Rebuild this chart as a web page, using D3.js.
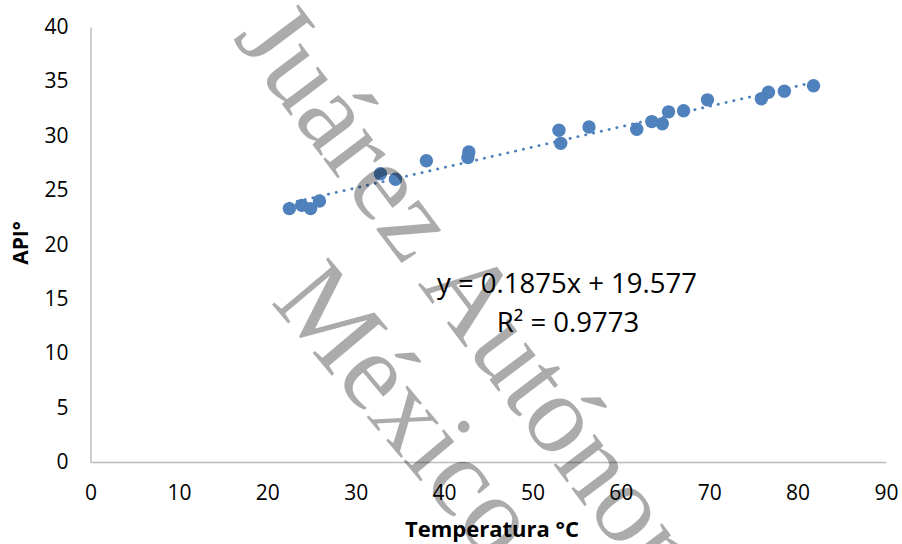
<!DOCTYPE html>
<html>
<head>
<meta charset="utf-8">
<script src="https://cdn.jsdelivr.net/npm/d3@7"></script>
<style>
  html, body { margin: 0; padding: 0; background: #fff; }
  svg { display: block; }
</style>
</head>
<body>
<svg id="chart" width="902" height="544"></svg>
<script>
// ---- data ----
const temperatura = [22.5, 23.9, 24.9, 25.9, 32.8, 34.5, 38.0, 42.8, 42.7, 53.0, 53.2, 56.4,
                     61.8, 63.5, 64.7, 65.4, 67.1, 69.8, 75.9, 76.7, 78.5, 81.8];
const api         = [23.3, 23.6, 23.3, 24.0, 26.5, 26.0, 27.7, 28.5, 28.0, 30.5, 29.3, 30.8,
                     30.6, 31.3, 31.1, 32.2, 32.3, 33.3, 33.4, 34.0, 34.1, 34.6];
const xTicks = [0, 10, 20, 30, 40, 50, 60, 70, 80, 90];
const yTicks = [0, 5, 10, 15, 20, 25, 30, 35, 40];
const trendSlope = 0.1875;
const trendIntercept = 19.577;
const equationLabel = "y = 0.1875x + 19.577";
const r2Label = "R² = 0.9773";
const xTitle = "Temperatura °C";
const yTitle = "API°";
const watermarkLine1 = "Juárez Autónoma de Tabasco";
const watermarkLine2 = "México";

// ---- layout ----
const svg = d3.select("#chart");
const x = d3.scaleLinear().domain([0, 90]).range([90.5, 886]);
const y = d3.scaleLinear().domain([0, 40]).range([462, 27]);
const font = "'Open Sans', 'Liberation Sans', sans-serif";
const blue = "#4f81bd";

// axes
const xAxis = svg.append("g").attr("transform", `translate(0,${y(0)})`)
  .call(d3.axisBottom(x).tickValues(xTicks).tickSize(0).tickFormat(d3.format("d")));
xAxis.select(".domain").attr("stroke", "#bcbcbc").attr("stroke-width", 1.5);
xAxis.selectAll("text").attr("y", 38).attr("dy", 0)
  .attr("font-family", font).attr("font-size", 21).attr("fill", "#000");

const yAxis = svg.append("g").attr("transform", `translate(${x(0)},0)`)
  .call(d3.axisLeft(y).tickValues(yTicks).tickSize(0).tickFormat(d3.format("d")));
yAxis.select(".domain").attr("stroke", "#bcbcbc").attr("stroke-width", 1.5);
yAxis.selectAll("text").attr("x", -22).attr("dy", "0.31em")
  .attr("font-family", font).attr("font-size", 21).attr("fill", "#000");

// points
svg.append("g").selectAll("circle")
  .data(temperatura.map((t, i) => [t, api[i]]))
  .join("circle")
  .attr("cx", d => x(d[0]))
  .attr("cy", d => y(d[1]))
  .attr("r", 6.7)
  .attr("fill", blue);

// trendline
const tMin = d3.min(temperatura), tMax = d3.max(temperatura);
svg.append("line")
  .attr("x1", x(tMin)).attr("y1", y(trendSlope * tMin + trendIntercept))
  .attr("x2", x(tMax)).attr("y2", y(trendSlope * tMax + trendIntercept))
  .attr("stroke", blue).attr("stroke-width", 2.8)
  .attr("stroke-linecap", "round")
  .attr("stroke-dasharray", "0.3 7.7");

// equation
svg.append("text").attr("x", 567).attr("y", 293).attr("text-anchor", "middle")
  .attr("font-family", font).attr("font-size", 27.5).attr("fill", "#000").text(equationLabel);
svg.append("text").attr("x", 568).attr("y", 331.5).attr("text-anchor", "middle")
  .attr("font-family", font).attr("font-size", 27.5).attr("fill", "#000").text(r2Label);

// axis titles
svg.append("text").attr("x", 492).attr("y", 537).attr("text-anchor", "middle")
  .attr("font-family", font).attr("font-weight", "bold").attr("font-size", 22)
  .attr("fill", "#000").text(xTitle);
svg.append("text").attr("transform", "translate(28,243) rotate(-90)")
  .attr("text-anchor", "middle")
  .attr("font-family", font).attr("font-weight", "bold").attr("font-size", 21)
  .attr("fill", "#000").text(yTitle);

// watermark
const wm = svg.append("g").attr("font-family", "'Liberation Serif', 'DejaVu Serif', serif")
  .attr("font-size", 112).attr("fill", "#000").attr("fill-opacity", 0.33);
wm.append("text").attr("transform", "translate(232,38) rotate(53)")
  .attr("text-anchor", "start").text(watermarkLine1);
wm.append("text").attr("transform", "translate(270,302) rotate(50)")
  .attr("text-anchor", "start").text(watermarkLine2);
</script>
</body>
</html>
